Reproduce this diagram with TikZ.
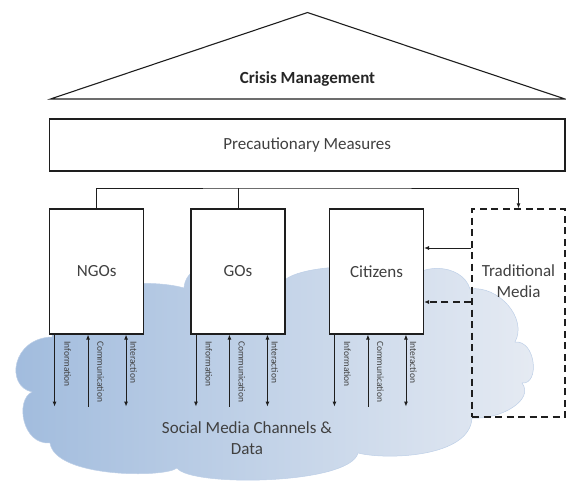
\documentclass[tikz,border=0pt]{standalone}
\usepackage{fontspec}
\setmainfont{Carlito}
\usepackage{tikz}
\usetikzlibrary{arrows.meta}
\definecolor{CloudDark}{RGB}{160,187,221}
\definecolor{CloudLight}{RGB}{230,235,243}
\definecolor{TextGray}{RGB}{64,64,64}
\definecolor{LineGray}{RGB}{30,30,30}

\begin{document}
\begin{tikzpicture}[x=1pt, y=-1pt, color=LineGray, line width=1.1pt,
  every node/.style={text=TextGray, font=\fontsize{17}{20.5}\selectfont},
  actor/.style={draw, fill=white, minimum width=94, minimum height=125, inner sep=0},
  flowlabel/.style={rotate=-90, anchor=west, inner sep=0, font=\fontsize{9.5}{11}\selectfont},
  tip/.style={-{Latex[length=5pt,width=4pt]}},
  dashedline/.style={dash pattern=on 7pt off 4.5pt}]
        \useasboundingbox (0,0) rectangle (566,482);
        \shade[left color=CloudDark, right color=CloudLight, draw=CloudDark!70!white, line width=0.5pt]
          (32,392) .. controls (5,386) and (12,338) .. (52,337)
          .. controls (50,280) and (150,278) .. (184,288)
          .. controls (186,250) and (280,250) .. (283,282)
          .. controls (295,265) and (390,258) .. (405,286)
          .. controls (415,262) and (462,262) .. (470,289)
          .. controls (498,285) and (528,318) .. (515,342)
          .. controls (536,340) and (540,385) .. (522,383)
          .. controls (535,400) and (500,420) .. (472,418)
          .. controls (470,458) and (385,460) .. (358,453)
          .. controls (350,485) and (190,487) .. (177,468)
          .. controls (165,478) and (55,478) .. (50,443)
          .. controls (22,445) and (15,400) .. (32,392) -- cycle;
        \draw (50.5,99) -- (307.5,12.5) -- (565,99) -- cycle;
        \node[font=\bfseries\fontsize{17}{20.5}\selectfont, text=black!85] (crisis) at (307.5,79) {Crisis Management};
        \node[draw, minimum width=515.5, minimum height=52, inner sep=0] (prec) at (307.25,145) {Precautionary Measures};
        \node[actor] (ngo) at (96.6,271.5) {NGOs};
        \node[actor] (go) at (238,271.5) {GOs};
        \node[actor] (cit) at (376.5,271.5) {Citizens};
        \node[draw, dashedline, line width=1.3pt, minimum width=93, minimum height=208, inner sep=0] (media) at (518.5,313) {};
        \node[align=center] (medialabel) at (518.5,281) {Traditional\\Media};
        \node[align=center] (social) at (247,438) {Social Media Channels \&\\Data};
        \coordinate (bus) at (307,188);
        \draw[line width=0.9pt] (go.north) -- (go.north |- bus);
        \draw[tip, line width=0.9pt] (ngo.north) |- (bus) -| (media.north);
        \draw[tip, line width=0.9pt] (media.west |- 0,248) -- (cit.east |- 0,248);
        \draw[tip, dashedline, line width=1.1pt] (media.west |- 0,302) -- (cit.east |- 0,302);
        \foreach \b in {ngo,go,cit} {
          \coordinate (\b-info) at ([xshift=5.5pt, yshift=-72pt]\b.south west);
          \coordinate (\b-comm) at ([xshift=39pt, yshift=-72pt]\b.south west);
          \coordinate (\b-inter) at ([xshift=77pt, yshift=-72pt]\b.south west);
          \draw[tip, line width=0.9pt] ([xshift=5.5pt]\b.south west) -- (\b-info);
          \draw[tip, line width=0.9pt] (\b-comm) -- ([xshift=39pt]\b.south west);
          \draw[{Latex[length=5pt,width=4pt]}-{Latex[length=5pt,width=4pt]}, line width=0.9pt] ([xshift=77pt]\b.south west) -- (\b-inter);
          \node[flowlabel] (\b-infolabel) at ([xshift=18.5pt, yshift=-6pt]\b.south west) {Information};
          \node[flowlabel] (\b-commlabel) at ([xshift=51.5pt, yshift=-6pt]\b.south west) {Communication};
          \node[flowlabel] (\b-interlabel) at ([xshift=84.5pt, yshift=-6pt]\b.south west) {Interaction};
        }
      \end{tikzpicture}
\end{document}
